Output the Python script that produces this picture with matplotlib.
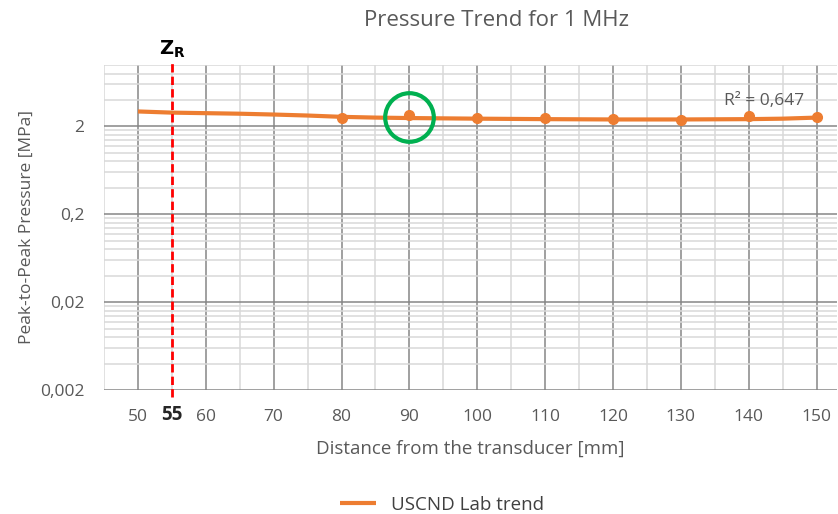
import matplotlib
matplotlib.use("Agg")
import matplotlib.pyplot as plt
from matplotlib.ticker import FixedLocator, FixedFormatter, NullFormatter
from matplotlib.transforms import blended_transform_factory

plt.rcParams["font.family"] = ["Open Sans", "DejaVu Sans"]

# measured points (distance mm, pressure MPa)
dist_mm = [80, 90, 100, 110, 120, 130, 140, 150]
pressure_mpa = [2.51, 2.72, 2.49, 2.49, 2.45, 2.36, 2.60, 2.56]

# trend line
trend_x = [50, 55, 60, 65, 70, 75, 80, 85, 90, 100, 110, 120, 130, 140, 145, 150]
trend_y = [2.96, 2.87, 2.83, 2.79, 2.73, 2.66, 2.57, 2.52, 2.49, 2.45, 2.42, 2.40, 2.40, 2.42, 2.45, 2.52]

r2_text = "R² = 0,647"
zr_mm = 55
highlight_x, highlight_y = 90, 2.54

y_major = [0.002, 0.02, 0.2, 2]
y_major_labels = ["0,002", "0,02", "0,2", "2"]
x_major = list(range(50, 151, 10))
x_minor = list(range(45, 156, 10))

ORANGE = "#ED7D31"
GRAY_TXT = "#595959"

fig = plt.figure(figsize=(8.38, 5.14), dpi=100)
ax = fig.add_axes([104 / 838, 124 / 514, 733 / 838, 325 / 514])

ax.set_yscale("log")
ax.set_xlim(45, 153)
ax.set_ylim(0.002, 10)

# grid like Excel: dark major, light minor
ax.xaxis.set_major_locator(FixedLocator(x_major))
ax.xaxis.set_minor_locator(FixedLocator(x_minor))
y_minor = [b * k for b in y_major for k in range(2, 10)]
ax.yaxis.set_major_locator(FixedLocator(y_major))
ax.yaxis.set_major_formatter(FixedFormatter(y_major_labels))
ax.yaxis.set_minor_locator(FixedLocator(y_minor))
ax.yaxis.set_minor_formatter(NullFormatter())
ax.grid(which="minor", color="#d9d9d9", linewidth=1.1)
ax.grid(which="major", color="#868686", linewidth=1.1)
ax.set_axisbelow(True)
for s in ax.spines.values():
    s.set_visible(False)
ax.tick_params(which="both", length=0)
ax.tick_params(axis="x", pad=14, labelsize=12.5, labelcolor=GRAY_TXT)
ax.tick_params(axis="y", pad=14, labelsize=12.5, labelcolor=GRAY_TXT)

# trend line and points
ax.plot(trend_x, trend_y, color=ORANGE, linewidth=3, label="USCND Lab trend",
        solid_capstyle="butt", zorder=3)
ax.plot(dist_mm, pressure_mpa, linestyle="none", marker="o", markersize=7,
        color=ORANGE, zorder=4)

# Z_R marker
ax.axvline(zr_mm, ymin=-0.022, ymax=1.005, color="#FF0000", linewidth=2,
           linestyle=(0, (3, 1.5)), clip_on=False, zorder=5)
trans = blended_transform_factory(ax.transData, ax.transAxes)
ax.text(zr_mm, 1.015, r"$\mathbf{Z}_{\mathbf{R}}$", transform=trans, ha="center",
        va="bottom", fontsize=14, color="black", family="DejaVu Sans")
ax.text(zr_mm, -0.078, "55", transform=trans, ha="center", va="center",
        fontsize=13.5, fontweight="bold", color="#262626")

# highlight circle
ax.plot(highlight_x, highlight_y, marker="o", markersize=35, mfc="none",
        mec="#00B050", mew=3, zorder=6)

ax.text(142.3, 3.85, r2_text, ha="center", va="center", fontsize=12.5,
        color=GRAY_TXT)

ax.set_xlabel("Distance from the transducer [mm]", fontsize=13.5, color=GRAY_TXT,
              labelpad=10)
ax.set_ylabel("Peak-to-Peak Pressure [MPa]", fontsize=12.5, color=GRAY_TXT,
              labelpad=4)
fig.text(496 / 838, 1 - 20 / 514, "Pressure Trend for 1 MHz", ha="center",
         va="center", fontsize=16, color=GRAY_TXT)

fig.legend(loc="center", bbox_to_anchor=(442 / 838, 1 - 505 / 514), frameon=False,
           fontsize=13.5, handlelength=1.95, handletextpad=0.8, labelcolor="#404040")

fig.savefig("out.png", dpi=100)
